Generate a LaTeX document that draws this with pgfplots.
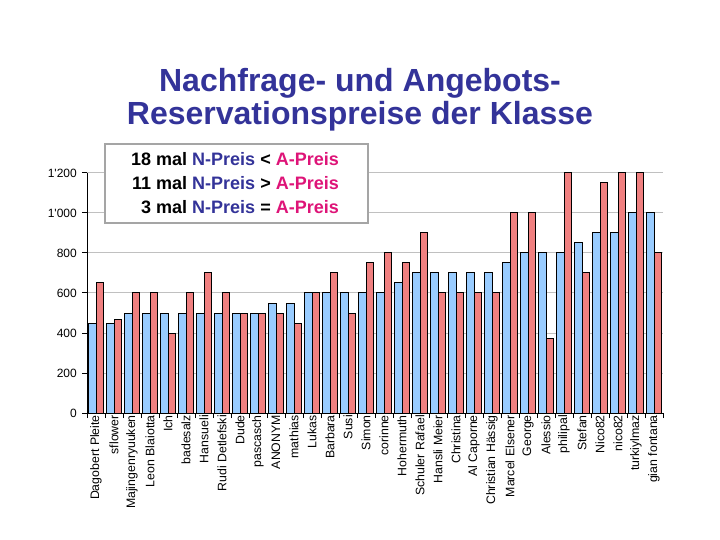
\documentclass[border=0pt]{standalone}
\usepackage{fontspec}
\setmainfont{Liberation Sans}[Ligatures=TeXOff]
\usepackage{pgfplots}
\usepackage{pgfplotstable}
\pgfplotsset{compat=1.18}
\definecolor{nblue}{RGB}{153,204,255}
\definecolor{ared}{RGB}{240,128,128}
\definecolor{titleblue}{RGB}{51,51,153}
\definecolor{amag}{RGB}{222,20,120}
\definecolor{gridgray}{RGB}{192,192,192}
\definecolor{boxgray}{RGB}{165,165,165}

\pgfplotstableread{
idx N A
0 450 650
1 450 470
2 500 600
3 500 600
4 500 400
5 500 600
6 500 700
7 500 600
8 500 500
9 500 500
10 550 500
11 550 450
12 600 600
13 600 700
14 600 500
15 600 750
16 600 800
17 650 750
18 700 900
19 700 600
20 700 600
21 700 600
22 700 600
23 750 1000
24 800 1000
25 800 375
26 800 1200
27 850 700
28 900 1150
29 900 1200
30 1000 1200
31 1000 800
}\data

\begin{document}
\begin{tikzpicture}
\path[use as bounding box] (-87bp,-127bp) rectangle (633bp,413bp);
\begin{axis}[
  at={(0bp,0bp)}, anchor=south west,
  scale only axis, width=576bp, height=240bp,
  xmin=-0.5, xmax=31.5, ymin=0, ymax=1200,
  ybar=0pt, bar width=7.5bp,
  axis x line*=bottom, axis y line*=left,
  axis line style={black, line width=1bp, -},
  ytick={0,200,...,1200},
  yticklabels={0,200,400,600,800,1'000,1'200},
  ymajorgrids, grid style={gridgray, line width=1bp},
  tick align=outside, major tick length=5bp,
  tick style={black, line width=1bp},
  tick label style={font=\fontsize{12bp}{14bp}\selectfont},
  y tick label style={inner sep=1bp, xshift=-4bp},
  xtick={-0.5,0.5,...,31.5}, xticklabels={},
  extra x ticks={0,1,...,31},
  extra x tick style={major tick length=0pt, tick label style={font=\fontsize{12.3bp}{14bp}\selectfont, rotate=90, anchor=east, inner sep=2bp}},
  extra x tick labels={Dagobert Pleite,sflower,Majingenryuuken,Leon Blaiotta,Ich,badesalz,Hansueli,Rudi Detlefski,Dude,pascasch,ANONYM,mathias,Lukas,Barbara,Susi,Simon,corinne,Hohermuth,Schuler Rafael,Hansli Meier,Christina,Al Caporne,Christian Hässig,Marcel Elsener,George,Alessio,philipal,Stefan,Nico82,nico82,turkiylmaz,gian fontana},
]
\addplot[fill=nblue, draw=black, line width=1bp] table[x=idx,y=N]{\data};
\addplot[fill=ared, draw=black, line width=1bp] table[x=idx,y=A]{\data};
\end{axis}
% title
\node[anchor=base, text=titleblue, font=\fontsize{32bp}{36bp}\selectfont\bfseries] at (273bp,321bp) {Nachfrage- und Angebots-};
\node[anchor=base, text=titleblue, font=\fontsize{32bp}{36bp}\selectfont\bfseries] at (273bp,288bp) {Reservationspreise der Klasse};
% annotation box
\node[draw=boxgray, line width=2.5bp, fill=white, minimum width=263bp, minimum height=79bp, inner sep=0pt] at (149.5bp,229.5bp) {};
\begin{scope}[every node/.style={anchor=base east, inner sep=0pt, font=\fontsize{18bp}{22bp}\selectfont\bfseries}]
\node at (252bp,247bp) {18 mal \textcolor{titleblue}{N-Preis} < \textcolor{amag}{A-Preis}};
\node at (252bp,223bp) {11 mal \textcolor{titleblue}{N-Preis} > \textcolor{amag}{A-Preis}};
\node at (252bp,199bp) {3 mal \textcolor{titleblue}{N-Preis} = \textcolor{amag}{A-Preis}};
\end{scope}
\end{tikzpicture}
\end{document}
